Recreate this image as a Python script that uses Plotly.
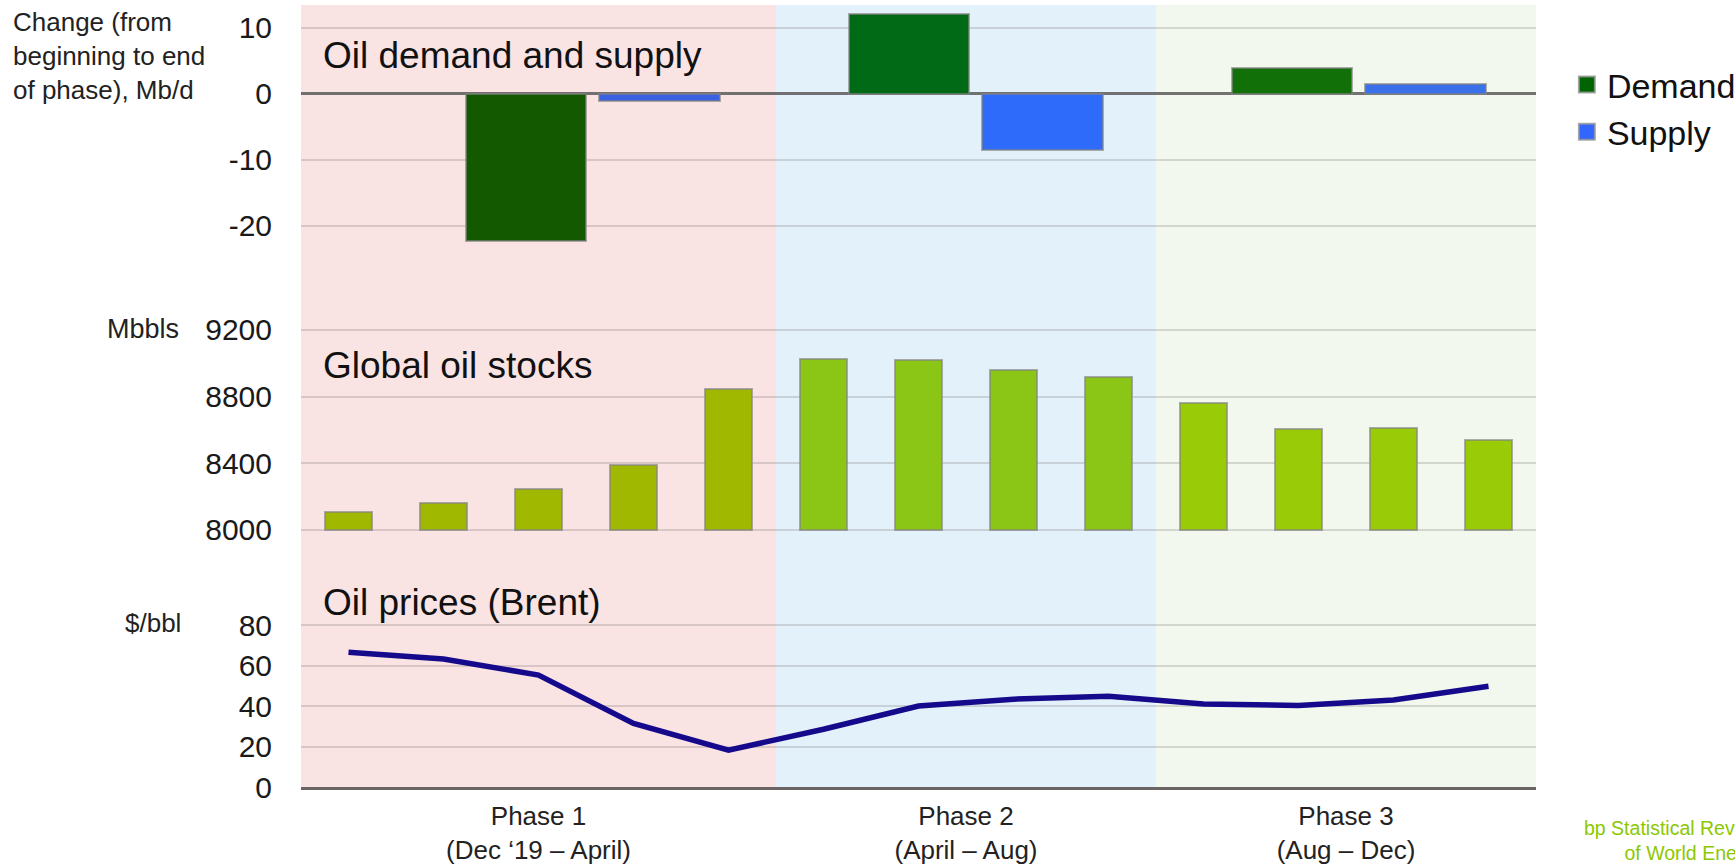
import plotly.graph_objects as go

# monthly points, Dec '19 .. Dec '20
MONTHS = ["Dec '19", "Jan", "Feb", "Mar", "Apr", "May", "Jun",
          "Jul", "Aug", "Sep", "Oct", "Nov", "Dec"]
STOCKS = [8110, 8164, 8248, 8392, 8844, 9026, 9020, 8960, 8920, 8760, 8608, 8612, 8540]
BRENT = [66.5, 63.2, 55.3, 31.4, 18.2, 28.5, 40.0, 43.4, 44.8, 41.0, 40.3, 43.0, 49.8]

PHASES = ["Phase 1", "Phase 2", "Phase 3"]
PHASE_LABELS = ["Phase 1<br>(Dec \u201819 \u2013 April)", "Phase 2<br>(April \u2013 Aug)",
                "Phase 3<br>(Aug \u2013 Dec)"]
PHASE_MONTHS = [5, 4, 4]
DEMAND = [-22.3, 12.1, 3.9]
SUPPLY = [-1.1, -8.5, 1.5]

CHANGE_TICKS = [-20, -10, 0, 10]
STOCK_TICKS = [8000, 8400, 8800, 9200]
PRICE_TICKS = [0, 20, 40, 60, 80]

PHASE_BG = ["#f9e3e3", "#e3f2fa", "#f2f8ee"]
DEMAND_COL = ["#135900", "#006a16", "#117008"]
SUPPLY_COL = ["#3a60e4", "#2f6bfb", "#3a70ea"]
STOCK_COL = ["#a0b800"] * 5 + ["#8bc617"] * 4 + ["#99cb06"] * 4

FONT = "Liberation Sans, Arial, sans-serif"
GRID = "rgba(120,110,110,0.25)"
OUTLINE = "rgba(130,130,130,0.65)"

x_idx = list(range(len(MONTHS)))
edges = [-0.5]
for n in PHASE_MONTHS:
    edges.append(edges[-1] + n)
centers = [(edges[i] + edges[i + 1]) / 2 for i in range(len(PHASE_MONTHS))]

fig = go.Figure()

fig.add_trace(go.Bar(x=PHASES, y=DEMAND, name="Demand", xaxis="x2", yaxis="y",
                     marker=dict(color=DEMAND_COL, line=dict(color=OUTLINE, width=2)),
                     width=0.315, offset=-0.332, showlegend=False))
fig.add_trace(go.Bar(x=PHASES, y=SUPPLY, name="Supply", xaxis="x2", yaxis="y",
                     marker=dict(color=SUPPLY_COL, line=dict(color=OUTLINE, width=2)),
                     width=0.315, offset=0.017, showlegend=False))

# legend swatches (bigger squares than the default bar swatch)
for name, col in [("Demand", "#006400"), ("Supply", "#3366ff")]:
    fig.add_trace(go.Scatter(x=[None], y=[None], mode="markers", name=name,
                             xaxis="x2", yaxis="y", legendgroup=name,
                             marker=dict(symbol="square", size=16, color=col,
                                         line=dict(color="rgba(150,150,150,0.8)", width=2))))

fig.add_trace(go.Bar(x=x_idx, y=[v - 8000 for v in STOCKS], base=8000, xaxis="x", yaxis="y2",
                     marker=dict(color=STOCK_COL, line=dict(color=OUTLINE, width=2)),
                     width=0.5, showlegend=False, customdata=MONTHS))

fig.add_trace(go.Scatter(x=x_idx, y=BRENT, mode="lines", xaxis="x", yaxis="y3",
                         line=dict(color="#160a8c", width=5.5), showlegend=False,
                         customdata=MONTHS))

# phase shading behind everything
for i, col in enumerate(PHASE_BG):
    fig.add_shape(type="rect", xref="x", yref="paper", x0=edges[i], x1=edges[i + 1],
                  y0=0, y1=1, fillcolor=col, line_width=0, layer="below")

tickfont = dict(family=FONT, size=30, color="#1a1a1a")

fig.update_layout(
    width=1735, height=867,
    margin=dict(l=301, r=199, t=5, b=80, autoexpand=False),
    plot_bgcolor="white", paper_bgcolor="white",
    font=dict(family=FONT, color="#111"),
    bargap=0,
    xaxis=dict(domain=[0, 1], range=[-0.5, 12.5], anchor="y3", showgrid=False,
               tickvals=centers, ticktext=PHASE_LABELS, ticks="", ticklabelstandoff=4,
               tickfont=dict(family=FONT, size=26, color="#222"), automargin=False,
               showline=True, linecolor="#6a6464", linewidth=2.5, zeroline=False),
    xaxis2=dict(domain=[0, 1], range=[-0.7623, 2.4631], anchor="y", visible=False,
                automargin=False),
    yaxis=dict(domain=[0.6867, 1.0], range=[-23.64, 13.48], tickvals=CHANGE_TICKS,
               ticktext=[str(t) for t in CHANGE_TICKS], automargin=False,
               gridcolor=GRID, gridwidth=2, zeroline=True, zerolinecolor="rgba(90,90,90,0.85)",
               zerolinewidth=3, tickfont=tickfont, ticklabelstandoff=28),
    yaxis2=dict(domain=[0.3159, 0.6228], range=[7940, 9380], tickvals=STOCK_TICKS,
                gridcolor=GRID, gridwidth=2, zeroline=False, tickfont=tickfont,
                ticklabelstandoff=28, automargin=False),
    yaxis3=dict(domain=[0, 0.2391], range=[0, 92.35], tickvals=PRICE_TICKS,
                gridcolor=GRID, gridwidth=2, zeroline=False, tickfont=tickfont,
                ticklabelstandoff=28, automargin=False),
    legend=dict(x=1.025, y=0.935, xanchor="left", yanchor="top", tracegroupgap=0,
                font=dict(family=FONT, size=34, color="#111"), bgcolor="rgba(0,0,0,0)"),
)

title_font = dict(family=FONT, size=37, color="#111")
for text, y in [("Oil demand and supply", 0.936), ("Global oil stocks", 0.5396),
                ("Oil prices (Brent)", 0.2353)]:
    fig.add_annotation(text=text, xref="paper", yref="paper", x=0.016, y=y,
                       xanchor="left", yanchor="middle", showarrow=False, font=title_font)

side_font = dict(family=FONT, size=26, color="#222")
fig.add_annotation(text="Change (from<br>beginning to end<br>of phase), Mb/d",
                   xref="paper", yref="paper", x=-0.2348, y=1.0, xanchor="left",
                   yanchor="top", align="left", showarrow=False, font=side_font)
fig.add_annotation(text="Mbbls", xref="paper", yref="paper", x=-0.0972, y=0.5857,
                   xanchor="right", yanchor="middle", showarrow=False,
                   font=dict(family=FONT, size=27, color="#222"))
fig.add_annotation(text="$/bbl", xref="paper", yref="paper", x=-0.0955, y=0.2097,
                   xanchor="right", yanchor="middle", showarrow=False, font=side_font)

fig.add_annotation(text="bp Statistical Review<br>of World Energy", xref="paper", yref="paper",
                   x=1.037, y=-0.0355, xanchor="left", yanchor="top", align="right",
                   showarrow=False, font=dict(family=FONT, size=19.5, color="#8cc800"))

# drop the default 8px page margin so the figure sits at the window's corner
fig.write_html("out.html", config={"displayModeBar": False},
               post_script="document.body.style.margin='0';")
